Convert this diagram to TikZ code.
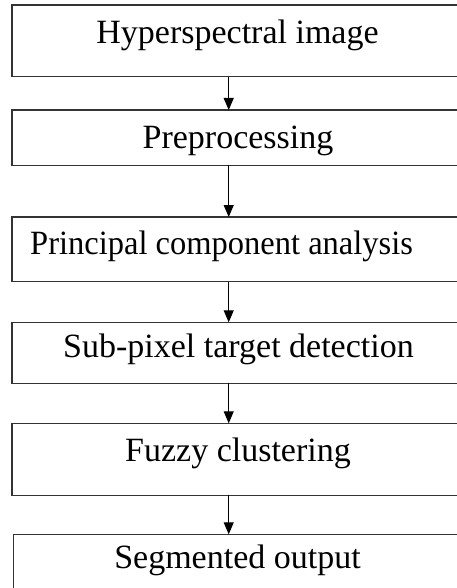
\documentclass[tikz,border=0pt]{standalone}
\usepackage{fontspec}
\setmainfont{Liberation Serif}
\usetikzlibrary{arrows.meta}
\definecolor{linec}{HTML}{333333}
\begin{document}
\begin{tikzpicture}[x=1pt,y=1pt,
  stagebox/.style={draw=linec, line width=1.4pt, inner sep=0pt, outer sep=0pt, anchor=north west, minimum width=452pt},
  stagetext/.style={inner sep=0pt, anchor=base, font=\fontsize{34}{41}\selectfont},
  arr/.style={draw=black, line width=1pt, -{Triangle[length=12pt,width=10pt]}}]
\useasboundingbox (0,0) rectangle (457,-588);
\clip (0,0) rectangle (457,-588);
\coordinate (ax) at (228.7,0);
\node[stagebox, minimum height=71.7pt] (b1) at (12,-5) {};
\node[stagebox, minimum height=55.3pt] (b2) at (12,-110) {};
\node[stagebox, minimum height=64.7pt] (b3) at (12,-217) {};
\node[stagebox, minimum height=61pt] (b4) at (12,-322.3) {};
\node[stagebox, minimum height=72pt] (b5) at (12,-423.3) {};
\node[stagebox, minimum height=70pt, minimum width=451pt] (b6) at (13.3,-534.3) {};
\node[stagetext] (t1) at (237.5,-43.3) {Hyperspectral image};
\node[stagetext] (t2) at (238,-149) {Preprocessing};
\node[stagetext, anchor=base west] (t3) at (30,-254) {\scalebox{0.956}[1]{Principal component analysis}};
\node[stagetext] (t4) at (238.5,-357) {Sub-pixel target detection};
\node[stagetext] (t5) at (238,-461) {Fuzzy clustering};
\node[stagetext] (t6) at (237.5,-568) {Segmented output};
\draw[arr] (b1.south -| ax) -- (b2.north -| ax);
\draw[arr] (b2.south -| ax) -- (b3.north -| ax);
\draw[arr] (b3.south -| ax) -- (b4.north -| ax);
\draw[arr] (b4.south -| ax) -- (b5.north -| ax);
\draw[arr] (b5.south -| ax) -- (b6.north -| ax);
\end{tikzpicture}
\end{document}
